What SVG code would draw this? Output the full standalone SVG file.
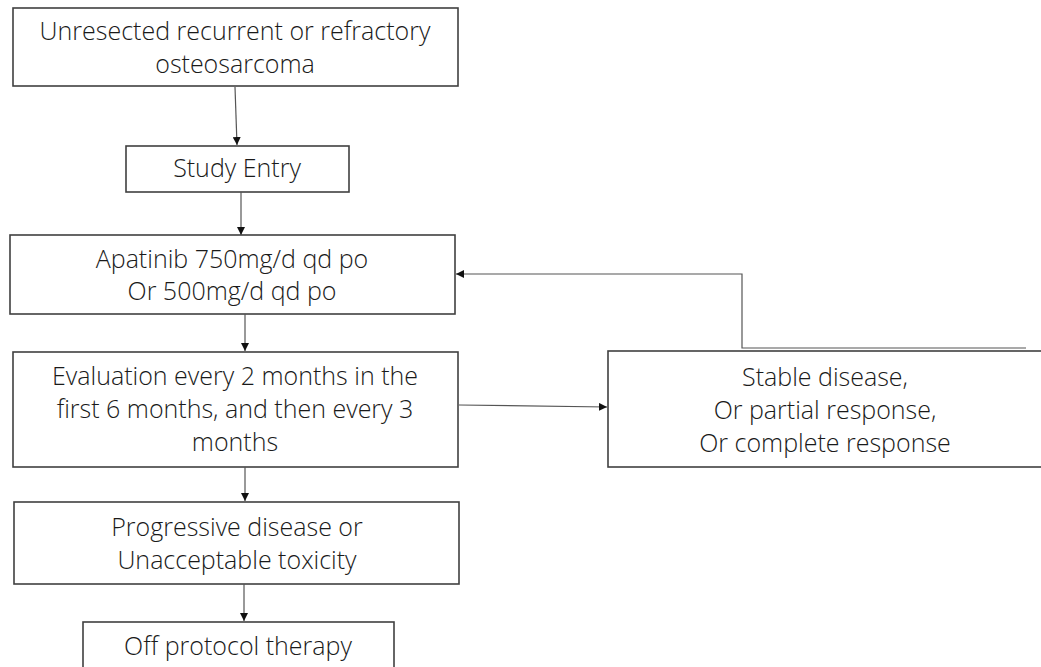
<svg xmlns="http://www.w3.org/2000/svg" width="1041" height="667" viewBox="0 0 1041 667">
<defs>
<style>
.box{fill:#fff;stroke:#404040;stroke-width:1.6}
.t{font-family:"Open Sans","Noto Sans","Liberation Sans",sans-serif;font-size:25px;font-weight:300;fill:#1a1a1a;text-anchor:middle}
.c{fill:none;stroke:#555;stroke-width:1.2}
</style>
<marker id="ah" viewBox="0 0 10 10" refX="10" refY="5" markerWidth="8" markerHeight="8" markerUnits="userSpaceOnUse" orient="auto">
<path d="M0,0 L10,5 L0,10 z" fill="#111"/>
</marker>
</defs>
<rect width="1041" height="667" fill="#fff"/>
<g id="n1"><rect class="box" x="13" y="8" width="445" height="78"/>
<text class="t" x="235" y="40">Unresected recurrent or refractory</text>
<text class="t" x="235" y="73">osteosarcoma</text></g>
<g id="n2"><rect class="box" x="126" y="146" width="223" height="46"/>
<text class="t" x="237" y="177">Study Entry</text></g>
<g id="n3"><rect class="box" x="10" y="235" width="445" height="79"/>
<text class="t" x="232" y="268">Apatinib 750mg/d qd po</text>
<text class="t" x="232" y="300">Or 500mg/d qd po</text></g>
<g id="n4"><rect class="box" x="13" y="352" width="445" height="115"/>
<text class="t" x="235" y="385">Evaluation every 2 months in the</text>
<text class="t" x="235" y="418">first 6 months, and then every 3</text>
<text class="t" x="235" y="451">months</text></g>
<g id="n5"><rect class="box" x="14" y="502" width="445" height="82"/>
<text class="t" x="237" y="536">Progressive disease or</text>
<text class="t" x="237" y="569">Unacceptable toxicity</text></g>
<g id="n6"><rect class="box" x="83" y="622" width="311" height="60"/>
<text class="t" x="238" y="655">Off protocol therapy</text></g>
<g id="n7"><rect class="box" x="608" y="351" width="450" height="116"/>
<text class="t" x="825" y="386">Stable disease,</text>
<text class="t" x="825" y="419">Or partial response,</text>
<text class="t" x="825" y="452">Or complete response</text></g>
<g id="connectors">
<line class="c" x1="235" y1="87" x2="237" y2="145" marker-end="url(#ah)"/>
<line class="c" x1="241" y1="192" x2="241" y2="235" marker-end="url(#ah)"/>
<line class="c" x1="245" y1="314" x2="245" y2="351" marker-end="url(#ah)"/>
<line class="c" x1="245" y1="467" x2="245" y2="501" marker-end="url(#ah)"/>
<line class="c" x1="244" y1="584" x2="244" y2="621" marker-end="url(#ah)"/>
<line class="c" x1="459" y1="405" x2="607" y2="407" marker-end="url(#ah)"/>
<polyline class="c" points="1026,348 742,348 742,274 456,274" marker-end="url(#ah)"/>
</g>
</svg>
